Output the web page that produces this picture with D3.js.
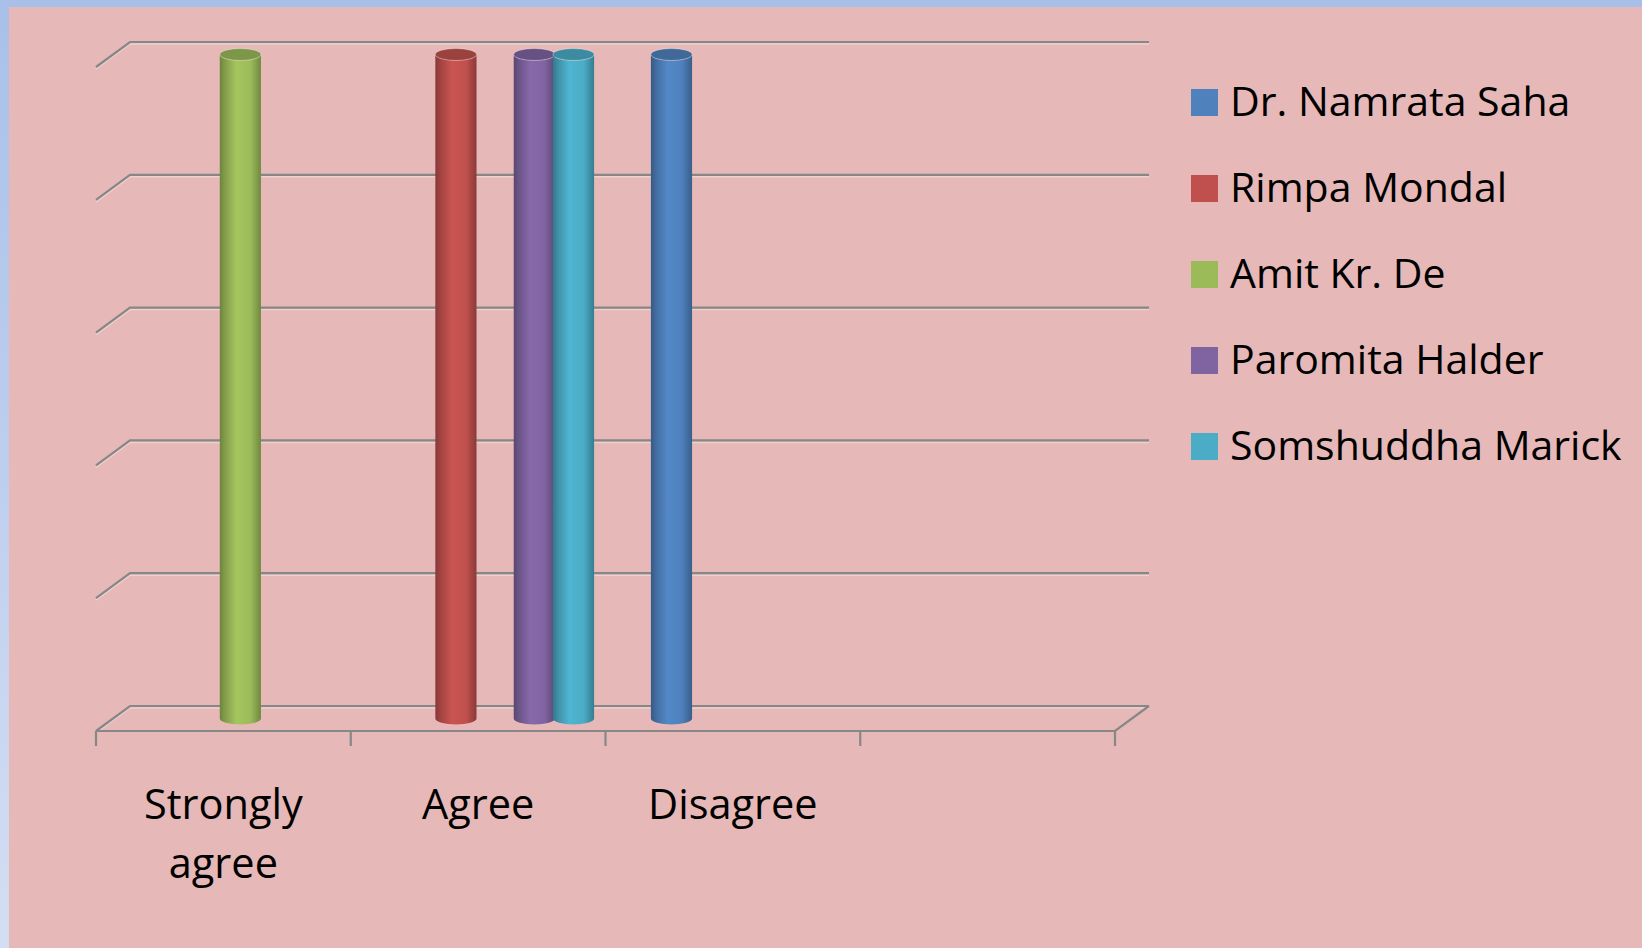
<!DOCTYPE html>
<meta charset="utf-8">
<head>
<style>
  body { margin: 0; background: #a8c0e9; overflow: hidden; }
  text { font-family: 'Open Sans', sans-serif; fill: #000; }
</style>
</head>
<body>
<div id="chart"></div>
<script src="https://cdn.jsdelivr.net/npm/d3@7"></script>
<script>

// chart data
var categories = ["Strongly agree", "Agree", "Disagree", ""];
var seriesNames = ["Dr. Namrata Saha", "Rimpa Mondal", "Amit Kr. De", "Paromita Halder", "Somshuddha Marick"];
var seriesColors = ["#4f81bd", "#c0504d", "#9bbb59", "#8064a2", "#4bacc6"];
var namrataValues = [0, 0, 1, 0];
var rimpaValues = [0, 1, 0, 0];
var amitValues = [1, 0, 0, 0];
var paromitaValues = [0, 1, 0, 0];
var somshuddhaValues = [0, 1, 0, 0];
var yTicks = [0, 0.2, 0.4, 0.6, 0.8, 1];

var seriesValues = [namrataValues, rimpaValues, amitValues, paromitaValues, somshuddhaValues];

var W = 1642, H = 948;
// depth of the 3d box
var dx = 34, dy = -25;

var svg = d3.select("#chart").append("svg")
  .attr("width", W)
  .attr("height", H);

var defs = svg.append("defs");

// outer blue frame
var frameGrad = defs.append("linearGradient")
  .attr("id", "frame").attr("x1", 0).attr("y1", 0).attr("x2", 0).attr("y2", 1);
frameGrad.append("stop").attr("offset", "0%").attr("stop-color", "#a8c0e9");
frameGrad.append("stop").attr("offset", "100%").attr("stop-color", "#d4def3");

svg.append("rect").attr("width", W).attr("height", H).attr("fill", "url(#frame)");
svg.append("rect").attr("x", 9).attr("y", 7).attr("width", W - 9).attr("height", H - 7)
  .attr("fill", "#e6b8b7");

// scales (front plane)
var x = d3.scaleBand()
  .domain(categories)
  .range([96, 1115])
  .padding(0);

var xs = d3.scaleBand()
  .domain(seriesNames)
  .range([0, x.bandwidth()])
  .paddingInner(0)
  .paddingOuter(0.75);

var y = d3.scaleLinear()
  .domain([0, 1])
  .range([706, 42]);

var color = d3.scaleOrdinal().domain(seriesNames).range(seriesColors);

// gridlines on back wall + left side diagonals
var grid = svg.append("g").attr("class", "grid");
yTicks.forEach(function(t) {
  var yy = y(t);
  var pts = [[x.range()[0], yy - dy], [x.range()[0] + dx, yy], [x.range()[1] + dx, yy]];
  grid.append("path")
    .attr("d", d3.line()(pts.map(function(p) { return [p[0], p[1] + 2]; })))
    .attr("fill", "none").attr("stroke", "#fff").attr("stroke-opacity", 0.35).attr("stroke-width", 1.5);
  grid.append("path")
    .attr("d", d3.line()(pts))
    .attr("fill", "none").attr("stroke", "#878787").attr("stroke-width", 2.2);
});

// floor front edge with right diagonal
var floorY = y(0) - dy;
svg.append("path")
  .attr("d", d3.line()([[x.range()[0], floorY], [x.range()[1], floorY], [x.range()[1] + dx, y(0)]]))
  .attr("fill", "none").attr("stroke", "#878787").attr("stroke-width", 2.2);

// category axis ticks
var tickX = categories.map(function(c) { return x(c); }).concat([x.range()[1]]);
svg.selectAll(".tick")
  .data(tickX)
  .enter().append("line")
    .attr("x1", function(d) { return d; })
    .attr("x2", function(d) { return d; })
    .attr("y1", floorY)
    .attr("y2", floorY + 15)
    .attr("stroke", "#878787")
    .attr("stroke-width", 2.2);

// category labels
var labels = svg.append("g");
categories.forEach(function(c) {
  var words = c === "Strongly agree" ? ["Strongly", "agree"] : [c];
  var t = labels.append("text")
    .attr("x", x(c) + x.bandwidth() / 2)
    .attr("y", 819)
    .attr("text-anchor", "middle")
    .style("font-size", "41.5px");
  words.forEach(function(w, i) {
    t.append("tspan")
      .attr("x", x(c) + x.bandwidth() / 2)
      .attr("dy", i === 0 ? 0 : 59)
      .text(w);
  });
});

// cylinder gradients
seriesNames.forEach(function(s, i) {
  var c = d3.color(color(s));
  var g = defs.append("linearGradient")
    .attr("id", "cyl" + i).attr("x1", 0).attr("x2", 1).attr("y1", 0).attr("y2", 0);
  g.append("stop").attr("offset", "0%").attr("stop-color", c.darker(1));
  g.append("stop").attr("offset", "12%").attr("stop-color", c.darker(0.5));
  g.append("stop").attr("offset", "40%").attr("stop-color", c.brighter(0.15));
  g.append("stop").attr("offset", "75%").attr("stop-color", c);
  g.append("stop").attr("offset", "100%").attr("stop-color", c.darker(0.9));
});

// build bar list
var bars = [];
categories.forEach(function(c, ci) {
  seriesNames.forEach(function(s, si) {
    var v = seriesValues[si][ci];
    if (v > 0) bars.push({cat: c, series: s, si: si, value: v});
  });
});

var bw = xs.step() * 1.05;
var ry = 6;
var barG = svg.append("g");
bars.forEach(function(d) {
  var cx = x(d.cat) + xs(d.series) + xs.bandwidth() / 2 + dx / 2;
  var x0 = cx - bw / 2, x1 = cx + bw / 2, rx = bw / 2;
  var yb = y(0) - dy / 2, yt = y(d.value) - dy / 2;
  var c = d3.color(color(d.series));
  barG.append("path")
    .attr("d", "M" + x0 + "," + yt + " L" + x0 + "," + yb +
      " A" + rx + "," + ry + " 0 0 0 " + x1 + "," + yb +
      " L" + x1 + "," + yt + " A" + rx + "," + ry + " 0 0 1 " + x0 + "," + yt + " Z")
    .attr("fill", "url(#cyl" + d.si + ")");
  barG.append("ellipse")
    .attr("cx", cx).attr("cy", yt)
    .attr("rx", rx).attr("ry", ry)
    .attr("fill", c.darker(0.6))
    .attr("stroke", "#fff").attr("stroke-opacity", 0.35).attr("stroke-width", 1);
});

// legend
var legend = svg.append("g");
seriesNames.forEach(function(s, i) {
  var cy = 102.5 + i * 86;
  legend.append("rect")
    .attr("x", 1191).attr("y", cy - 13.5)
    .attr("width", 27).attr("height", 27)
    .attr("fill", color(s));
  legend.append("text")
    .attr("x", 1230).attr("y", cy + 13.5)
    .style("font-size", "41px")
    .text(s);
});

</script>
</body>
